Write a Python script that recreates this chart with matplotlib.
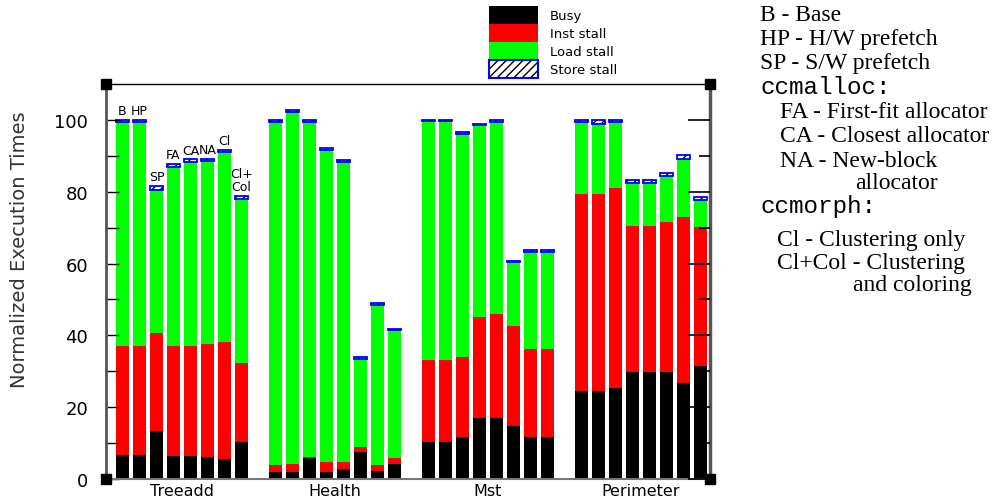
import numpy as np
import matplotlib.pyplot as plt
from matplotlib.patches import Patch

# Benchmarks and configurations
benchmarks = ['Treeadd', 'Health', 'Mst', 'Perimeter']
configs = ['B', 'HP', 'SP', 'FA', 'CA', 'NA', 'Cl', 'Cl+\nCol']

# Segment values (normalized execution time), one row per benchmark
busy = [
    [6.8, 6.8, 13.5, 6.5, 6.5, 6.2, 5.7, 10.3],
    [1.9, 1.9, 5.8, 1.9, 2.9, 7.4, 2.3, 4.2],
    [10.3, 10.3, 11.7, 17.1, 17.1, 14.8, 11.7, 11.7],
    [24.6, 24.6, 25.3, 29.7, 29.7, 29.7, 26.8, 31.4],
]
inst_stall = [
    [30.2, 30.2, 27.2, 30.5, 30.6, 31.4, 32.5, 22.0],
    [2.1, 2.3, 0.2, 2.7, 1.7, 1.5, 1.7, 1.7],
    [22.8, 22.8, 22.3, 28.1, 28.9, 27.8, 24.6, 24.6],
    [54.8, 54.8, 55.6, 40.8, 40.8, 41.8, 46.1, 38.9],
]
load_stall = [
    [62.4, 62.4, 39.8, 50.0, 51.1, 50.9, 52.8, 45.8],
    [95.5, 98.1, 93.5, 87.1, 83.8, 24.6, 44.4, 35.5],
    [66.5, 66.5, 62.2, 53.3, 53.3, 17.8, 26.8, 26.8],
    [20.0, 19.6, 18.5, 11.8, 11.8, 13.0, 16.3, 7.4],
]
store_stall = [
    [0.6, 0.6, 1.2, 0.7, 0.8, 0.7, 0.7, 0.8],
    [0.5, 0.5, 0.4, 0.5, 0.4, 0.5, 0.5, 0.5],
    [0.4, 0.4, 0.4, 0.4, 0.7, 0.4, 0.6, 0.6],
    [0.6, 1.0, 0.6, 0.9, 0.9, 0.7, 0.9, 0.9],
]

sans = 'DejaVu Sans'
fig = plt.figure(figsize=(10.06, 5.02), dpi=100)
ax = fig.add_axes([106 / 1006, 22 / 502, 604 / 1006, 395 / 502])

n = len(configs)
width = 0.8
for g in range(len(benchmarks)):
    x = np.arange(n) + g * (n + 1)
    b = np.array(busy[g])
    i = np.array(inst_stall[g])
    l = np.array(load_stall[g])
    s = np.array(store_stall[g])
    ax.bar(x, b, width, color='black', linewidth=0)
    ax.bar(x, i, width, bottom=b, color='#ff0000', linewidth=0)
    ax.bar(x, l, width, bottom=b + i, color='#00ff00', linewidth=0)
    ax.bar(x, s, width, bottom=b + i + l, color='white', hatch='////',
           edgecolor='black', linewidth=0)
    ax.bar(x, s, width, bottom=b + i + l, fill=False, edgecolor='#0000ff',
           linewidth=1.3)
    if g == 0:
        tops = b + i + l + s
        for xi, ti, lab in zip(x, tops, configs):
            ax.annotate(lab, (xi, ti), xytext=(0, 2), textcoords='offset points',
                        ha='center', va='bottom', fontsize=9, family=sans,
                        linespacing=1.0)

xmin, xmax = -0.97, 34.56
ax.set_xlim(xmin, xmax)
ax.set_ylim(0, 110)

# group labels
centers = [(n - 1) / 2 + g * (n + 1) for g in range(len(benchmarks))]
ax.set_xticks(centers)
ax.set_xticklabels(benchmarks, fontsize=11.5, family=sans)
ax.tick_params(axis='x', length=0, pad=3)

ax.set_yticks(np.arange(0, 101, 20))
ax.set_yticks(np.arange(10, 101, 20), minor=True)
ax.tick_params(axis='y', which='both', direction='in', length=9, width=1,
               pad=13, labelsize=13, color='black')
for t in ax.get_yticklabels():
    t.set_family(sans)

# right-side ticks
ax2 = ax.twinx()
ax2.set_ylim(0, 110)
ax2.set_yticks(np.arange(0, 101, 20))
ax2.set_yticks(np.arange(10, 101, 20), minor=True)
ax2.tick_params(axis='y', which='major', direction='in', length=16, width=1.2)
ax2.tick_params(axis='y', which='minor', direction='in', length=8, width=1.2)
ax2.set_yticklabels([])
for sp in ax2.spines.values():
    sp.set_visible(False)

ax.spines['top'].set_color('black')
ax.spines['top'].set_linewidth(1)
ax.spines['left'].set_color('#555555')
ax.spines['left'].set_linewidth(2)
ax.spines['right'].set_color('#555555')
ax.spines['right'].set_linewidth(2.5)
ax.spines['bottom'].set_color('#777777')
ax.spines['bottom'].set_linewidth(1.5)

# corner markers
for cx in (xmin, xmax):
    for cy in (0, 110):
        ax.plot([cx], [cy], marker='s', markersize=7.5, color='black',
                clip_on=False, zorder=10)

fig.text(20 / 1006, 0.503, 'Normalized Execution Times', rotation=90,
         ha='center', va='center', fontsize=14, family=sans, color='#333333')

# legend
h_busy = Patch(facecolor='black', edgecolor='none')
h_inst = Patch(facecolor='#ff0000', edgecolor='none')
h_load = Patch(facecolor='#00ff00', edgecolor='none')
h_store = (Patch(facecolor='white', hatch='////', edgecolor='black', linewidth=0),
           Patch(fill=False, edgecolor='#0000ff', linewidth=1.5))
fig.legend([h_busy, h_inst, h_load, h_store],
           ['Busy', 'Inst stall', 'Load stall', 'Store stall'],
           loc='upper left', bbox_to_anchor=(489 / 1006, 1 - 7 / 502),
           frameon=False, handlelength=3.7, handleheight=1.72,
           labelspacing=0.0, handletextpad=0.9, borderpad=0, borderaxespad=0,
           prop={'family': sans, 'size': 9.5})

# explanation text
serif = 'Liberation Serif'
mono = 'Liberation Mono'
notes = [
    ('B - Base', 760, 21, serif),
    ('HP - H/W prefetch', 760, 45, serif),
    ('SP - S/W prefetch', 760, 69, serif),
    ('ccmalloc:', 760, 94, mono),
    ('FA - First-fit allocator', 780, 118, serif),
    ('CA - Closest allocator', 780, 142, serif),
    ('NA - New-block', 780, 167, serif),
    ('allocator', 855, 189, serif),
    ('ccmorph:', 760, 213, mono),
    ('Cl - Clustering only', 777, 246, serif),
    ('Cl+Col - Clustering', 777, 269, serif),
    ('and coloring', 853, 291, serif),
]
for txt, px, py, fam in notes:
    fig.text(px / 1006, 1 - py / 502, txt, ha='left', va='baseline',
             fontsize=17.5 if fam == mono else 17, family=fam)

fig.savefig('out.png', dpi=100)
